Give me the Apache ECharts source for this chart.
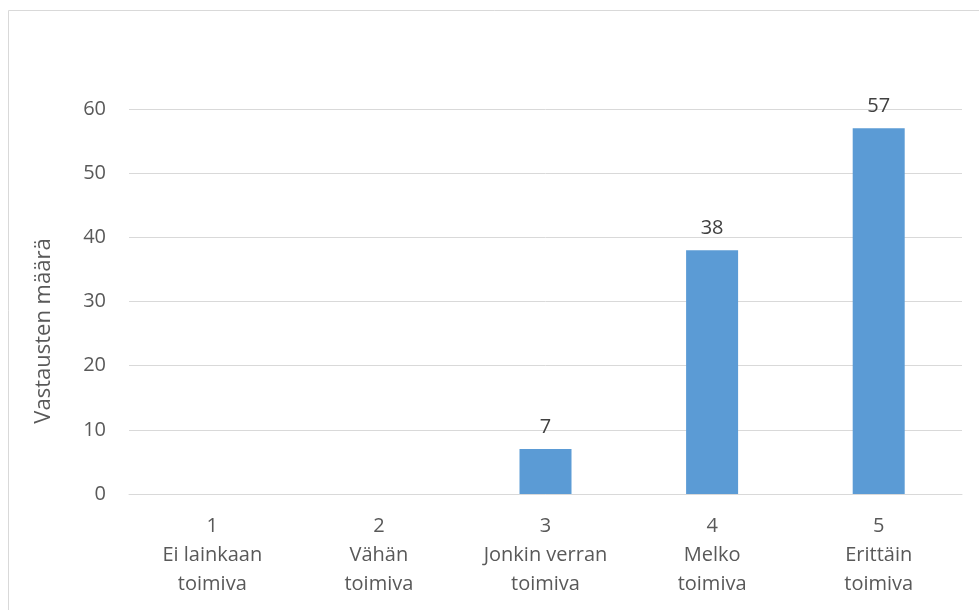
<!DOCTYPE html>
<html><head><meta charset="utf-8">
<script src="https://cdn.jsdelivr.net/npm/echarts@6/dist/echarts.min.js"></script>
<style>html,body{margin:0;padding:0;background:#fff}#c{width:979px;height:610px}</style>
</head><body><div id="c"></div>
<script>
const categories = ['1\nEi lainkaan\ntoimiva', '2\nVähän\ntoimiva', '3\nJonkin verran\ntoimiva', '4\nMelko\ntoimiva', '5\nErittäin\ntoimiva'];
const values = [0, 0, 7, 38, 57];
const yTicks = {min: 0, max: 60, interval: 10};
const yName = 'Vastausten määrä';

const chart = echarts.init(document.getElementById('c'));
const font = 'Open Sans, Liberation Sans, sans-serif';
chart.setOption({
  animation: false,
  graphic: [
    {type: 'rect', shape: {x: 8.5, y: 10.5, width: 1000, height: 700}, style: {fill: 'none', stroke: '#d9d9d9', lineWidth: 1}, silent: true},
    {type: 'text', x: 44, y: 331, rotation: Math.PI / 2, silent: true,
      style: {text: yName, fill: '#595959', fontSize: 22, fontFamily: font, textAlign: 'center', textVerticalAlign: 'middle'}}
  ],
  grid: {left: 129, right: 17, top: 109, bottom: 116},
  xAxis: {
    type: 'category', data: categories,
    axisLine: {lineStyle: {color: '#d9d9d9', width: 1}},
    axisTick: {show: false},
    axisLabel: {color: '#595959', fontSize: 20, fontFamily: font, lineHeight: 29, margin: 18, interval: 0}
  },
  yAxis: {
    type: 'value', min: yTicks.min, max: yTicks.max, interval: yTicks.interval,
    axisLine: {show: false}, axisTick: {show: false},
    axisLabel: {color: '#595959', fontSize: 20, fontFamily: font, margin: 23},
    splitLine: {lineStyle: {color: '#d9d9d9', width: 1}}
  },
  series: [{
    type: 'bar', data: values, barWidth: 52,
    itemStyle: {color: '#5b9bd5'},
    label: {show: true, position: 'top', distance: 12, color: '#404040', fontSize: 20, fontFamily: font,
      formatter: p => p.value === 0 ? '' : p.value}
  }]
});
</script></body></html>
